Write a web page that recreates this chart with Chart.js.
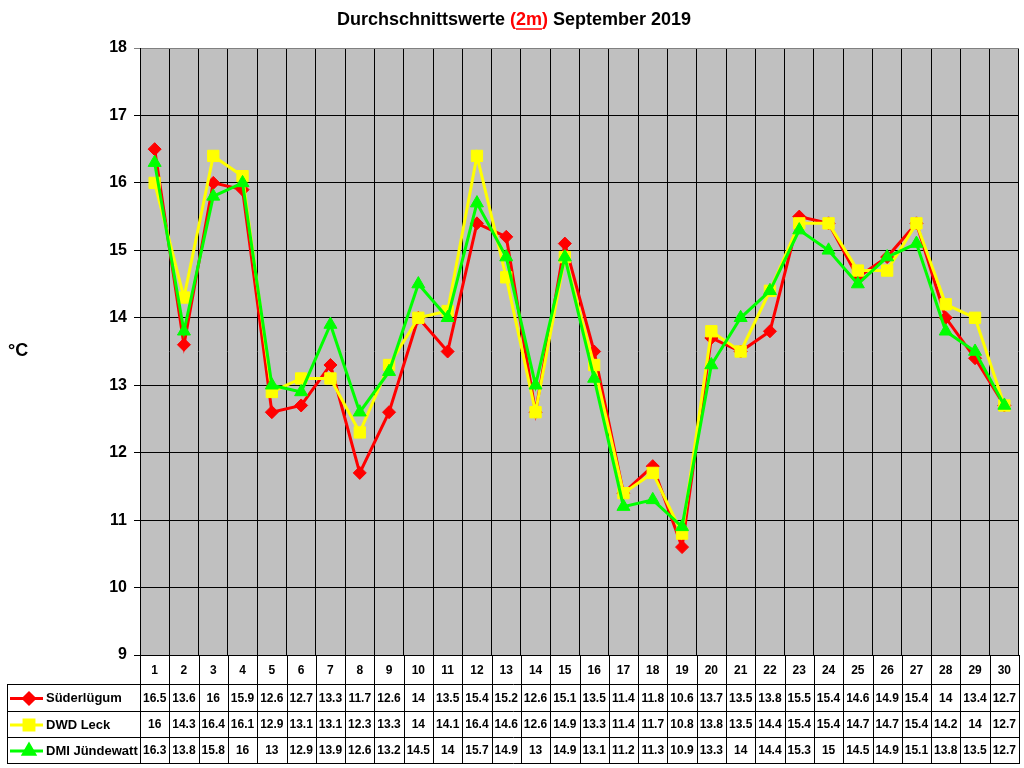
<!DOCTYPE html>
<html>
<head>
<meta charset="utf-8">
<title>Durchschnittswerte September 2019</title>
<script src="https://cdn.jsdelivr.net/npm/chart.js@4/dist/chart.umd.min.js"></script>
<style>
  body { margin: 0; background: #fff; }
  canvas { display: block; }
</style>
</head>
<body>
<canvas id="chart" width="1024" height="768"></canvas>
<script>
// Tage im September
const days = ["1","2","3","4","5","6","7","8","9","10","11","12","13","14","15",
              "16","17","18","19","20","21","22","23","24","25","26","27","28","29","30"];

const suederluegum = [16.5,13.6,16,15.9,12.6,12.7,13.3,11.7,12.6,14,13.5,15.4,15.2,12.6,15.1,
                      13.5,11.4,11.8,10.6,13.7,13.5,13.8,15.5,15.4,14.6,14.9,15.4,14,13.4,12.7];
const dwdLeck = [16,14.3,16.4,16.1,12.9,13.1,13.1,12.3,13.3,14,14.1,16.4,14.6,12.6,14.9,
                 13.3,11.4,11.7,10.8,13.8,13.5,14.4,15.4,15.4,14.7,14.7,15.4,14.2,14,12.7];
const dmiJuendewatt = [16.3,13.8,15.8,16,13,12.9,13.9,12.6,13.2,14.5,14,15.7,14.9,13,14.9,
                       13.1,11.2,11.3,10.9,13.3,14,14.4,15.3,15,14.5,14.9,15.1,13.8,13.5,12.7];

const seriesNames = ["Süderlügum", "DWD Leck", "DMI Jündewatt"];
const yTicks = [9, 10, 11, 12, 13, 14, 15, 16, 17, 18];

const titleParts = ["Durchschnittswerte ", "(", "2m", ")", " September 2019"];
const yAxisLabel = "°C";

// Hintergrund der Zeichenfläche (grau wie Excel)
const plotBackground = {
  id: "plotBackground",
  beforeDraw(chart) {
    const { ctx, chartArea: a } = chart;
    ctx.save();
    ctx.fillStyle = "#c0c0c0";
    ctx.fillRect(a.left, a.top, a.right - a.left, a.bottom - a.top);
    ctx.restore();
  }
};

// Titel mit rotem, unterstrichenem "(2m)" und Einheit links
const titleAndUnit = {
  id: "titleAndUnit",
  afterDraw(chart) {
    const ctx = chart.ctx;
    ctx.save();
    ctx.font = "bold 18px Arial, 'Liberation Sans', sans-serif";
    ctx.textBaseline = "middle";
    const widths = titleParts.map(t => ctx.measureText(t).width);
    const total = widths.reduce((s, w) => s + w, 0);
    let x = 514 - total / 2;
    const y = 20;
    titleParts.forEach((t, i) => {
      ctx.fillStyle = (i >= 1 && i <= 3) ? "#ff0000" : "#000000";
      ctx.textAlign = "left";
      ctx.fillText(t, x, y);
      if (i === 2) {
        ctx.strokeStyle = "#ff0000";
        ctx.lineWidth = 1.5;
        ctx.beginPath();
        ctx.moveTo(x, y + 9);
        ctx.lineTo(x + widths[i], y + 9);
        ctx.stroke();
      }
      x += widths[i];
    });

    ctx.fillStyle = "#000";
    ctx.font = "bold 18px Arial, 'Liberation Sans', sans-serif";
    ctx.textAlign = "left";
    ctx.fillText(yAxisLabel, 8, 351);
    ctx.restore();
  }
};

// Datentabelle unter dem Diagramm, Spalten an der x-Achse ausgerichtet
const dataTable = {
  id: "dataTable",
  afterDraw(chart) {
    const { ctx, chartArea: a } = chart;
    const xScale = chart.scales.x;
    const step = (a.right - a.left) / days.length;
    const headTop = a.bottom;
    const rowLines = [684, 711, 737, 763];
    const tableLeft = 7;

    ctx.save();
    ctx.strokeStyle = "#000";
    ctx.lineWidth = 1;

    // senkrechte Linien
    ctx.beginPath();
    for (let i = 0; i <= days.length; i++) {
      const x = Math.round(a.left + i * step) + 0.5;
      ctx.moveTo(x, headTop);
      ctx.lineTo(x, rowLines[3]);
    }
    ctx.moveTo(tableLeft + 0.5, rowLines[0]);
    ctx.lineTo(tableLeft + 0.5, rowLines[3]);
    // waagerechte Linien
    rowLines.forEach(y => {
      ctx.moveTo(tableLeft, y + 0.5);
      ctx.lineTo(Math.round(a.right) + 1, y + 0.5);
    });
    ctx.stroke();

    ctx.fillStyle = "#000";
    ctx.textAlign = "center";
    ctx.textBaseline = "middle";
    ctx.font = "bold 12px Arial, 'Liberation Sans', sans-serif";
    days.forEach((d, i) => {
      ctx.fillText(d, xScale.getPixelForValue(i), (headTop + rowLines[0]) / 2 + 1);
    });

    chart.data.datasets.forEach((ds, r) => {
      const yMid = (rowLines[r] + rowLines[r + 1]) / 2 + 1;
      // Legendensymbol
      ctx.strokeStyle = ds.borderColor;
      ctx.lineWidth = 3;
      ctx.beginPath();
      ctx.moveTo(10, yMid);
      ctx.lineTo(43, yMid);
      ctx.stroke();
      ctx.fillStyle = ds.pointBackgroundColor;
      ctx.strokeStyle = ds.pointBorderColor;
      Chart.helpers.drawPoint(ctx, {
        pointStyle: ds.pointStyle,
        radius: ds.pointRadius - 1,
        rotation: 0,
        borderWidth: 1
      }, 29, yMid);

      ctx.fillStyle = "#000";
      ctx.textAlign = "left";
      ctx.font = "bold 13px Arial, 'Liberation Sans', sans-serif";
      ctx.fillText(ds.label, 46, yMid);

      ctx.textAlign = "center";
      ctx.font = "bold 12px Arial, 'Liberation Sans', sans-serif";
      ds.data.forEach((v, i) => {
        ctx.fillText(String(v), xScale.getPixelForValue(i), yMid);
      });
    });
    ctx.restore();
  }
};

function makeSeries(label, data, color, style, radius, order) {
  return {
    label: label,
    data: data,
    borderColor: color,
    backgroundColor: color,
    borderWidth: 3,
    pointStyle: style,
    pointRadius: radius,
    pointBackgroundColor: color,
    pointBorderColor: color,
    pointBorderWidth: 1,
    tension: 0,
    order: order
  };
}

new Chart(document.getElementById("chart").getContext("2d"), {
  type: "line",
  data: {
    labels: days,
    datasets: [
      makeSeries(seriesNames[0], suederluegum, "#ff0000", "rectRot", 6.5, 2),
      makeSeries(seriesNames[1], dwdLeck, "#ffff00", "rect", 8, 1),
      makeSeries(seriesNames[2], dmiJuendewatt, "#00ff00", "triangle", 7.5, 0)
    ]
  },
  options: {
    responsive: false,
    devicePixelRatio: 1,
    animation: false,
    layout: { autoPadding: false, padding: { top: 48, right: 5, left: 0, bottom: 0 } },
    plugins: {
      legend: { display: false },
      title: { display: false },
      tooltip: { enabled: false }
    },
    scales: {
      x: {
        type: "category",
        offset: true,
        grid: {
          offset: true,
          color: ctx => ctx.index === days.length ? "#808080" : "#000",
          lineWidth: 1,
          drawTicks: false
        },
        border: { color: "#000" },
        ticks: { display: false },
        afterFit(scale) { scale.height = 113; }
      },
      y: {
        min: yTicks[0],
        max: yTicks[yTicks.length - 1],
        afterBuildTicks(scale) { scale.ticks = yTicks.map(v => ({ value: v })); },
        grid: {
          color: ctx => (ctx.tick && ctx.tick.value === 18) ? "#808080" : "#000",
          lineWidth: 1,
          tickLength: 6
        },
        border: { color: "#000" },
        ticks: {
          color: "#000",
          padding: 7,
          font: { family: "Arial, 'Liberation Sans', sans-serif", size: 16, weight: "bold" }
        },
        afterFit(scale) { scale.width = 140; }
      }
    }
  },
  plugins: [plotBackground, titleAndUnit, dataTable]
});
</script>
</body>
</html>
